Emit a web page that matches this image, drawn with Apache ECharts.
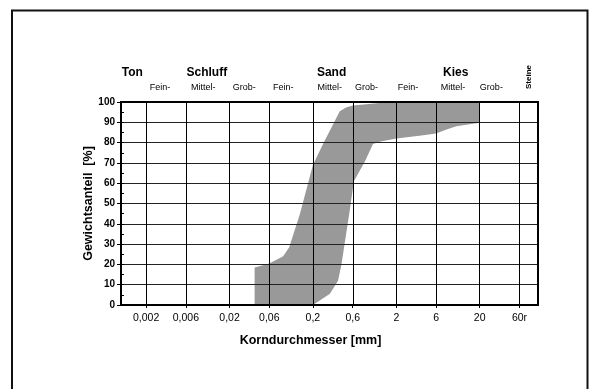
<!DOCTYPE html>
<html>
<head>
<meta charset="utf-8">
<script src="https://cdn.jsdelivr.net/npm/echarts@6/dist/echarts.min.js"></script>
<style>
  html, body { margin: 0; padding: 0; background: #fff; }
  #chart { width: 589px; height: 389px; }
</style>
</head>
<body>
<div id="chart"></div>
<script>
// Grain size axis: sieve sizes in mm and their printed labels
const sizeTicks = [0.002, 0.006, 0.02, 0.06, 0.2, 0.6, 2, 6, 20, 60];
const sizeTickLabels = ['0,002', '0,006', '0,02', '0,06', '0,2', '0,6', '2', '6', '20', '60r'];

// Percent passing axis
const passTicks = [0, 10, 20, 30, 40, 50, 60, 70, 80, 90, 100];

// Grading envelope: finer boundary (bottom to top)
const finerEdgeSize = [0.04, 0.04, 0.06, 0.088, 0.104, 0.14, 0.175, 0.2, 0.27, 0.42, 0.5, 0.6, 1.26, 2, 20];
const finerEdgePassing = [0, 18.5, 20.5, 24, 28.5, 45, 60, 69, 80, 95.5, 97.3, 98.3, 99.5, 100, 100];

// Grading envelope: coarser boundary (top to bottom)
const coarserEdgeSize = [20, 10.5, 8, 6, 4, 2, 1.3, 1.05, 0.84, 0.62, 0.555, 0.44, 0.4, 0.32, 0.2];
const coarserEdgePassing = [89.8, 88, 86.5, 84.5, 83.5, 82, 80.6, 79.3, 70.7, 61, 47, 20, 12, 5.5, 0];

// Soil classes (main groups and sub groups) with the grain size each caption sits at
const soilGroups = ['Ton', 'Schluff', 'Sand', 'Kies'];
const soilGroupAt = [0.00137, 0.0107, 0.335, 10.3];
const soilSubGroups = ['Fein-', 'Mittel-', 'Grob-', 'Fein-', 'Mittel-', 'Grob-', 'Fein-', 'Mittel-', 'Grob-'];
const soilSubGroupAt = [0.00294, 0.0097, 0.0301, 0.0881, 0.319, 0.879, 2.77, 9.57, 27.6];
const stonesLabel = 'Steine';
const stonesAt = 77;

const FONT = "'Liberation Sans', Arial, sans-serif";
const lg = v => Math.log10(v);

const envelope = [];
finerEdgeSize.forEach((d, i) => envelope.push([d, finerEdgePassing[i]]));
coarserEdgeSize.forEach((d, i) => envelope.push([d, coarserEdgePassing[i]]));

const logTicks = sizeTicks.map(lg);

function sizeLabel(v) {
  let best = 0;
  logTicks.forEach((t, i) => { if (Math.abs(t - v) < Math.abs(logTicks[best] - v)) best = i; });
  return sizeTickLabels[best];
}

const chart = echarts.init(document.getElementById('chart'), null, { renderer: 'canvas' });

chart.setOption({
  animation: false,
  backgroundColor: '#fff',
  textStyle: { fontFamily: FONT },
  grid: {
    left: 121, right: 51, top: 102, bottom: 84,
    show: true, borderColor: '#000', borderWidth: 2, z: 6,
    backgroundColor: 'transparent'
  },
  xAxis: {
    type: 'value', min: -3, max: 2, z: 5,
    name: 'Korndurchmesser [mm]', nameLocation: 'middle', nameGap: 29, nameMoveOverlap: false,
    nameTextStyle: { fontFamily: FONT, fontWeight: 'bold', fontSize: 12.5, color: '#000', padding: [0, 38, 0, 0] },
    axisLine: { show: true, onZero: false, lineStyle: { color: '#000', width: 2 } },
    axisTick: { show: true, customValues: logTicks, length: 3, lineStyle: { color: '#000' } },
    axisLabel: {
      customValues: logTicks, formatter: sizeLabel,
      fontFamily: FONT, fontSize: 10.5, color: '#000', margin: 8
    },
    splitLine: { show: false }
  },
  yAxis: [
    {
      type: 'value', min: 0, max: 100, interval: 10, z: 5,
      name: 'Gewichtsanteil  [%]', nameLocation: 'middle', nameGap: 26, nameRotate: 90,
      nameMoveOverlap: false,
      nameTextStyle: { fontFamily: FONT, fontWeight: 'bold', fontSize: 12.5, color: '#000' },
      axisLine: { show: true, onZero: false, lineStyle: { color: '#000', width: 2 } },
      axisTick: { show: true, length: 4, lineStyle: { color: '#000' } },
      axisLabel: {
        fontFamily: FONT, fontWeight: 'bold', fontSize: 10, color: '#000', margin: 6,
        formatter: v => passTicks.indexOf(v) >= 0 ? String(v) : ''
      },
      splitLine: { show: true, lineStyle: { color: '#222', width: 1 } }
    },
    {
      type: 'value', min: 0, max: 100, interval: 5, position: 'left', z: 5,
      axisLine: { show: false, onZero: false },
      axisTick: { show: true, inside: true, length: 3, lineStyle: { color: '#000' } },
      axisLabel: { show: false },
      splitLine: { show: false }
    }
  ],
  series: [
    {
      type: 'custom',
      name: 'Kornverteilungsband',
      coordinateSystem: 'cartesian2d',
      z: 1,
      silent: true,
      data: [[lg(envelope[0][0]), envelope[0][1]]],
      renderItem: function (params, api) {
        const pts = envelope.map(p => api.coord([lg(p[0]), p[1]]));
        return {
          type: 'polygon',
          shape: { points: pts },
          style: { fill: '#999999', stroke: null }
        };
      }
    },
    {
      type: 'line',
      name: 'Siebgrenzen',
      z: 4,
      silent: true,
      showSymbol: false,
      data: [],
      markLine: {
        silent: true,
        symbol: ['none', 'none'],
        label: { show: false },
        animation: false,
        lineStyle: { color: '#000', width: 1, type: 'solid' },
        data: logTicks.map(v => ({ xAxis: v }))
      }
    }
  ]
});

// Soil class captions above the plot, placed by grain size
const graphics = [];
const topY = chart.convertToPixel({ gridIndex: 0 }, [0, 100])[1];
soilGroups.forEach((t, i) => {
  const x = chart.convertToPixel({ gridIndex: 0 }, [lg(soilGroupAt[i]), 100])[0];
  graphics.push({
    type: 'text', x: x, y: topY - 29,
    style: { text: t, fontFamily: FONT, fontSize: 12, fontWeight: 'bold', fill: '#000', align: 'center', verticalAlign: 'middle' }
  });
});
soilSubGroups.forEach((t, i) => {
  const x = chart.convertToPixel({ gridIndex: 0 }, [lg(soilSubGroupAt[i]), 100])[0];
  graphics.push({
    type: 'text', x: x, y: topY - 14,
    style: { text: t, fontFamily: FONT, fontSize: 9, fill: '#000', align: 'center', verticalAlign: 'middle' }
  });
});
{
  const x = chart.convertToPixel({ gridIndex: 0 }, [lg(stonesAt), 100])[0];
  graphics.push({
    type: 'text', x: x, y: topY - 25, rotation: Math.PI / 2,
    style: { text: stonesLabel, fontFamily: FONT, fontSize: 8, fontWeight: 'bold', fill: '#000', align: 'center', verticalAlign: 'middle' }
  });
}
// Page frame
graphics.push({
  type: 'rect', z: 10, silent: true,
  shape: { x: 12, y: 10.5, width: 575.5, height: 400 },
  style: { fill: null, stroke: '#111', lineWidth: 2 }
});
chart.setOption({ graphic: graphics });
</script>
</body>
</html>
